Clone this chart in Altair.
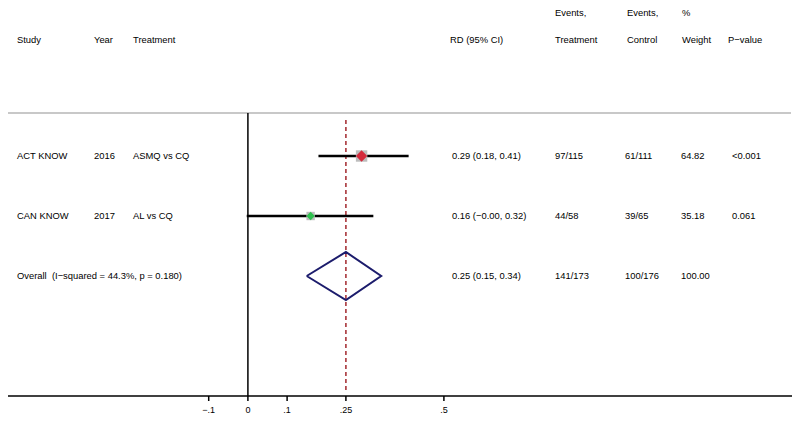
import altair as alt
import pandas as pd

# ---------------- data ----------------
studies = ["ACT KNOW", "CAN KNOW"]
years = ["2016", "2017"]
treatments = ["ASMQ vs CQ", "AL vs CQ"]
rd = [0.29, 0.16]
ci_low = [0.18, -0.003]
ci_high = [0.41, 0.32]
rd_text = ["0.29 (0.18, 0.41)", "0.16 (\u22120.00, 0.32)"]
events_treat = ["97/115", "44/58"]
events_ctrl = ["61/111", "39/65"]
weights = [64.82, 35.18]
pvalues = ["<0.001", "0.061"]

overall_label = "Overall \u00a0(I\u2212squared = 44.3%, p = 0.180)"
overall_rd = 0.25
overall_low = 0.15
overall_high = 0.34
overall_text = "0.25 (0.15, 0.34)"
overall_events_treat = "141/173"
overall_events_ctrl = "100/176"
overall_weight = "100.00"

tick_values = [-0.1, 0, 0.1, 0.25, 0.5]
tick_labels = ["\u2212.1", "0", ".1", ".25", ".5"]

header_top = ["", "", "", "", "Events,", "Events,", "%", ""]
header_bottom = ["Study", "Year", "Treatment", "RD (95% CI)", "Treatment", "Control", "Weight", "P\u2212value"]

# ---------------- tables ----------------
rows = list(range(1, len(studies) + 1))
overall_row = len(studies) + 1

studies_df = pd.DataFrame({
    "row": rows, "study": studies, "rd": rd, "lo": ci_low, "hi": ci_high,
    "weight": weights,
})

text_df = pd.DataFrame({
    "row": rows + [overall_row],
    "c0": studies + [overall_label],
    "c1": years + [""],
    "c2": treatments + [""],
    "c3": rd_text + [overall_text],
    "c4": events_treat + [overall_events_treat],
    "c5": events_ctrl + [overall_events_ctrl],
    "c6": [f"{w:.2f}" for w in weights] + [overall_weight],
    "c7": pvalues + [""],
})

half_h = 0.4
diamond_df = pd.DataFrame({
    "x": [overall_low, overall_rd, overall_high, overall_rd, overall_low],
    "row": [overall_row, overall_row - half_h, overall_row, overall_row + half_h, overall_row],
    "order": [0, 1, 2, 3, 4],
})

overall_df = pd.DataFrame({"rd": [overall_rd]})
zero_df = pd.DataFrame({"x": [0]})

# ---------------- scales ----------------
W, H = 784, 410
AX = 388  # y pixel of the x axis line
FONT = "Liberation Sans"
FS = 9.4

xscale = alt.Scale(domain=[-0.612, -0.612 + W / 392], nice=False, zero=False)
yscale = alt.Scale(domain=[-1.4667, 1 + (H - 148) / 60], reverse=True, nice=False, zero=False)

layers = []

# gray separator line
layers.append(
    alt.Chart(zero_df).mark_rule(color="#c8c8c8", strokeWidth=2).encode(
        x=alt.value(0), x2=alt.value(783), y=alt.value(105)
    )
)

# x axis line
layers.append(
    alt.Chart(zero_df).mark_rule(color="black", strokeWidth=1.5).encode(
        x=alt.value(0), x2=alt.value(W), y=alt.value(AX)
    )
)

# ticks and labels
ticks_df = pd.DataFrame({"v": tick_values, "lab": tick_labels})
layers.append(
    alt.Chart(ticks_df).mark_rule(color="black", strokeWidth=1.5).encode(
        x=alt.X("v:Q", scale=xscale, axis=None),
        y=alt.value(AX), y2=alt.value(AX + 5),
    )
)
layers.append(
    alt.Chart(ticks_df).mark_text(
        align="center", baseline="middle", font=FONT, fontSize=9, color="black"
    ).encode(
        x=alt.X("v:Q", scale=xscale, axis=None),
        y=alt.value(AX + 14),
        text="lab:N",
    )
)

# zero line
layers.append(
    alt.Chart(zero_df).mark_rule(color="black", strokeWidth=1.5).encode(
        x=alt.X("x:Q", scale=xscale, axis=None),
        y=alt.value(105), y2=alt.value(AX),
    )
)

# overall dashed line
layers.append(
    alt.Chart(overall_df).mark_rule(color="#a3272d", strokeWidth=1.5, strokeDash=[4, 3]).encode(
        x=alt.X("rd:Q", scale=xscale, axis=None),
        y=alt.value(112), y2=alt.value(AX - 4),
    )
)

# CI lines
layers.append(
    alt.Chart(studies_df).mark_rule(color="black", strokeWidth=2.5).encode(
        x=alt.X("lo:Q", scale=xscale, axis=None), x2="hi:Q",
        y=alt.Y("row:Q", scale=yscale, axis=None),
    )
)

# weight boxes
layers.append(
    alt.Chart(studies_df).mark_point(shape="square", filled=True, color="#bdbdbd", opacity=1).encode(
        x=alt.X("rd:Q", scale=xscale, axis=None),
        y=alt.Y("row:Q", scale=yscale, axis=None),
        size=alt.Size("weight:Q", scale=alt.Scale(domain=[0, 64.82], range=[0, 130]), legend=None),
    )
)

# point estimates
layers.append(
    alt.Chart(studies_df).mark_point(shape="diamond", filled=True, opacity=1).encode(
        x=alt.X("rd:Q", scale=xscale, axis=None),
        y=alt.Y("row:Q", scale=yscale, axis=None),
        color=alt.Color("study:N", scale=alt.Scale(domain=studies, range=["#d42a3c", "#2fbf4f"]), legend=None),
        size=alt.Size("weight:Q", scale=alt.Scale(domain=[35.18, 64.82], range=[34, 110]), legend=None),
    )
)

# overall diamond
layers.append(
    alt.Chart(diamond_df).mark_line(color="#1c1c6c", strokeWidth=2).encode(
        x=alt.X("x:Q", scale=xscale, axis=None),
        y=alt.Y("row:Q", scale=yscale, axis=None),
        order="order:Q",
    )
)

# table text
col_px = [9, 86, 125, 444, 547, 617, 673, 724]
head_px = [9, 86, 125, 442, 547, 619, 674, 720]
for i, px in enumerate(col_px):
    layers.append(
        alt.Chart(text_df).mark_text(
            align="left", baseline="middle", font=FONT, fontSize=FS, color="black"
        ).encode(
            x=alt.value(px),
            y=alt.Y("row:Q", scale=yscale, axis=None),
            text=f"c{i}:N",
        )
    )

# headers
hdr_df = pd.DataFrame({"top": header_top, "bottom": header_bottom})
for i in range(len(header_bottom)):
    sub = hdr_df.iloc[[i]]
    layers.append(
        alt.Chart(sub).mark_text(
            align="left", baseline="middle", font=FONT, fontSize=FS, color="black"
        ).encode(x=alt.value(head_px[i]), y=alt.value(32), text="bottom:N")
    )
    if header_top[i]:
        layers.append(
            alt.Chart(sub).mark_text(
                align="left", baseline="middle", font=FONT, fontSize=FS, color="black"
            ).encode(x=alt.value(head_px[i]), y=alt.value(5), text="top:N")
        )

chart = alt.layer(*layers).properties(
    width=W, height=H, padding=0, background="white",
    autosize=alt.AutoSizeParams(type="none"),
).configure_view(stroke=None)

chart.save("out.html", embed_options={"renderer": "svg", "actions": False})
